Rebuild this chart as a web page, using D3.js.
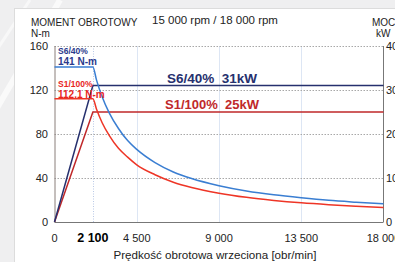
<!DOCTYPE html>
<html>
<head>
<meta charset="utf-8">
<script src="https://cdn.jsdelivr.net/npm/d3@7"></script>
<style>
  body { margin: 0; background: #efeff0; }
  svg { display: block; font-family: "Liberation Sans", Arial, sans-serif; }
</style>
</head>
<body>
<div id="chart"></div>
<script>
(function() {
    var width = 395,
        height = 262;

    // torque curves (N-m)
    var speedS6 = [0, 2100, 2300, 2600, 3000, 3500, 4000, 4500, 5500, 6500, 7500, 9000, 10500, 12000, 13500, 15000, 16500, 18000];
    var torqueS6 = [141, 141, 129, 114, 99, 85, 74, 66, 54, 45.5, 39.5, 33, 28.2, 24.7, 22, 19.7, 18, 16.5];
    var torqueS1 = [112.1, 112.1, 102.5, 90.5, 78.5, 67, 59, 52, 43, 36.2, 31.4, 26.2, 22.4, 19.6, 17.4, 15.7, 14.3, 13.1];

    // power curves (kW)
    var powerSpeed = [0, 2100, 18000];
    var powerS6 = [0, 31, 31];
    var powerS1 = [0, 25, 25];

    var leftTicks = [0, 40, 80, 120, 160];
    var rightTicks = [0, 10, 20, 30, 40];
    var xTicks = [0, 2100, 4500, 9000, 13500, 18000];
    var xTickLabels = ["0", "2 100", "4 500", "9 000", "13 500", "18 000"];

    var svg = d3.select("#chart")
        .append("svg")
        .attr("width", width)
        .attr("height", height)

    // background streaks + card
    var bg = svg.append("g")
    bg.append("rect").attr("width", width).attr("height", height).attr("fill", "#efeff0")
    bg.append("line").attr("x1", -10).attr("y1", 120).attr("x2", 60).attr("y2", 0)
        .attr("stroke", "#fafafa").attr("stroke-width", 6)
    bg.append("line").attr("x1", -10).attr("y1", 60).attr("x2", 30).attr("y2", 0)
        .attr("stroke", "#f8f8f8").attr("stroke-width", 3)
    bg.append("rect").attr("x", 14.5).attr("y", 8.5).attr("width", 400).attr("height", 300)
        .attr("fill", "#fff").attr("stroke", "#dcdcdc")

    var x = d3.scaleLinear().domain([0, 18000]).range([54.5, 383.5])
    var y = d3.scaleLinear().domain([0, 160]).range([222, 46])
    var yR = d3.scaleLinear().domain([0, 40]).range([222, 46])

    // vertical grid
    svg.selectAll(".vgrid")
        .data([4500, 9000, 13500])
        .enter().append("line")
        .attr("class", "vgrid")
        .attr("x1", function(d) { return Math.round(x(d)) + 0.5 })
        .attr("x2", function(d) { return Math.round(x(d)) + 0.5 })
        .attr("y1", y(160)).attr("y2", y(0))
        .attr("stroke", "#dde6f4").attr("stroke-width", 1)
    svg.append("line")
        .attr("x1", Math.round(x(2100)) + 0.5).attr("x2", Math.round(x(2100)) + 0.5)
        .attr("y1", y(160)).attr("y2", y(0))
        .attr("stroke", "#b9c9e6").attr("stroke-dasharray", "1,1.5")

    // horizontal grid
    svg.selectAll(".hgrid")
        .data([40, 80, 120, 160])
        .enter().append("line")
        .attr("class", "hgrid")
        .attr("x1", x(0)).attr("x2", x(18000))
        .attr("y1", function(d) { return Math.round(y(d)) + 0.5 })
        .attr("y2", function(d) { return Math.round(y(d)) + 0.5 })
        .attr("stroke", "#a8a8a8").attr("stroke-dasharray", "1.5,1.5")

    // axes lines
    svg.append("line").attr("x1", x(0) + 0.5).attr("x2", x(0) + 0.5).attr("y1", y(160)).attr("y2", y(0))
        .attr("stroke", "#8a7f7a")
    svg.append("line").attr("x1", x(18000)).attr("x2", x(18000)).attr("y1", y(160)).attr("y2", y(0))
        .attr("stroke", "#777")
    svg.append("line").attr("x1", x(0)).attr("x2", x(18000)).attr("y1", y(0) + 0.5).attr("y2", y(0) + 0.5)
        .attr("stroke", "#777")

    // tick labels
    svg.selectAll(".ly")
        .data(leftTicks)
        .enter().append("text")
        .attr("x", 48).attr("y", function(d) { return y(d) + 4 })
        .attr("text-anchor", "end").attr("font-size", 11).attr("fill", "#222")
        .text(function(d) { return d })
    svg.selectAll(".ry")
        .data(rightTicks)
        .enter().append("text")
        .attr("x", 386).attr("y", function(d) { return yR(d) + 4 })
        .attr("font-size", 11).attr("fill", "#222")
        .text(function(d) { return d })
    svg.selectAll(".xt")
        .data(xTicks)
        .enter().append("text")
        .attr("x", function(d) { return x(d) })
        .attr("y", 242)
        .attr("text-anchor", "middle")
        .attr("font-size", function(d) { return d === 2100 ? 12.5 : 11 })
        .attr("font-weight", function(d) { return d === 2100 ? "bold" : "normal" })
        .attr("fill", function(d) { return d === 2100 ? "#000" : "#222" })
        .text(function(d, i) { return xTickLabels[i] })

    // titles
    svg.append("text").attr("x", 31).attr("y", 26).attr("font-size", 10).attr("fill", "#222").text("MOMENT OBROTOWY")
    svg.append("text").attr("x", 31).attr("y", 37).attr("font-size", 10).attr("fill", "#222").text("N-m")
    svg.append("text").attr("x", 152).attr("y", 24).attr("font-size", 11.5).attr("fill", "#222").text("15 000 rpm / 18 000 rpm")
    svg.append("text").attr("x", 372).attr("y", 26).attr("font-size", 10).attr("fill", "#222").text("MOC")
    svg.append("text").attr("x", 376).attr("y", 37).attr("font-size", 10).attr("fill", "#222").text("kW")
    svg.append("text").attr("x", 215).attr("y", 259).attr("text-anchor", "middle").attr("font-size", 11.6).attr("fill", "#222")
        .text("Prędkość obrotowa wrzeciona [obr/min]")

    var lineT = d3.line()
        .x(function(d) { return x(d[0]) })
        .y(function(d) { return y(d[1]) })
        .curve(d3.curveMonotoneX)
    var lineP = d3.line()
        .x(function(d) { return x(d[0]) })
        .y(function(d) { return yR(d[1]) })

    // power lines
    svg.append("path")
        .datum(d3.zip(powerSpeed, powerS1))
        .attr("d", lineP).attr("fill", "none").attr("stroke", "#c0282a").attr("stroke-width", 1.5)
    svg.append("path")
        .datum(d3.zip(powerSpeed, powerS6))
        .attr("d", lineP).attr("fill", "none").attr("stroke", "#26306e").attr("stroke-width", 1.5)

    // torque lines
    svg.append("path")
        .datum(d3.zip(speedS6, torqueS1))
        .attr("d", lineT).attr("fill", "none").attr("stroke", "#ee3526").attr("stroke-width", 1.5)
    svg.append("path")
        .datum(d3.zip(speedS6, torqueS6))
        .attr("d", lineT).attr("fill", "none").attr("stroke", "#3a7ed2").attr("stroke-width", 1.5)

    // labels
    svg.append("text").attr("x", 58).attr("y", 54).attr("font-size", 8.5).attr("font-weight", "bold").attr("fill", "#2b3a8c").text("S6/40%")
    svg.append("text").attr("x", 58).attr("y", 65).attr("font-size", 10).attr("font-weight", "bold").attr("fill", "#2b3a8c").text("141 N-m")
    svg.append("text").attr("x", 58).attr("y", 87).attr("font-size", 8.5).attr("font-weight", "bold").attr("fill", "#e8261e").text("S1/100%")
    svg.append("text").attr("x", 58).attr("y", 97.5).attr("font-size", 10).attr("font-weight", "bold").attr("fill", "#e8261e").text("112.1 N-m")
    svg.append("text").attr("x", 167).attr("y", 83).attr("font-size", 13.5).attr("font-weight", "bold").attr("fill", "#26306e")
        .attr("xml:space", "preserve").text("S6/40%  31kW")
    svg.append("text").attr("x", 165).attr("y", 109).attr("font-size", 13).attr("font-weight", "bold").attr("fill", "#c0282a")
        .attr("xml:space", "preserve").text("S1/100%  25kW")
})();
</script>
</body>
</html>
